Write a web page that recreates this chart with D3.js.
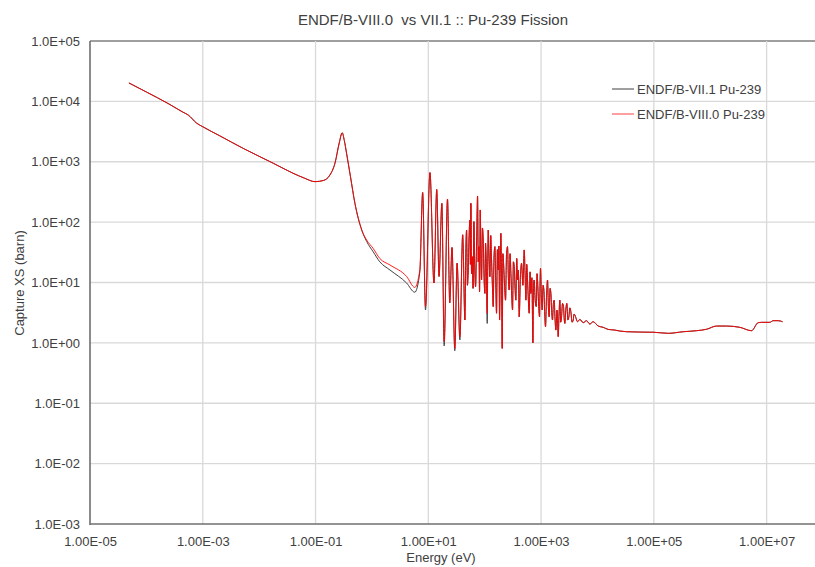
<!DOCTYPE html>
<html><head><meta charset="utf-8">
<script src="https://cdn.jsdelivr.net/npm/d3@7"></script>
<style>
body{margin:0;background:#fff;}
text{font-family:"Liberation Sans",Arial,sans-serif;}
</style></head>
<body><svg id="chart" width="815" height="567"></svg>
<script>
// ---- data ----
// energies in eV, ENDF/B-VIII.0 values in barn
const energy = [
 4.9e-5,1e-4,2.51e-4,4.47e-4,5.5e-4,7.76e-4,1e-3,2e-3,5.25e-3,1e-2,1.78e-2,3.98e-2,6.3e-2,9.8e-2,
 0.138,0.18,0.221,0.263,0.297,0.324,0.355,0.417,0.50,0.66,0.805,1.05,1.38,2.09,4.12,5.75,
 7.08,7.94,8.91,10.7,12.6,14.1,15.5,17.4,19.1,21.9,24.0,26.3,29.5,32.4,36.3,40.7,
 44.6,46.2,47.8,49.4,51.1,52.9,54.7,55.8,56.9,58.5,60.1,62.2,64.4,66.6,68.9,71.8,74.8,76.8,78.9,81.1,
 83.4,85.7,88.1,91.1,94.2,97.5,100.9,103.6,106.4,110.9,113.2,115.6,119.6,123.6,128,132.4,137,141.6,
 146.6,151.7,156.9,162.2,168,173.8,178.7,183.7,188.6,193.6,199,204.6,210.4,216.3,225,234.4,244,254.1,
 263,272.3,281.8,291.7,301.6,311.9,322.9,334.2,345.6,357.3,370,382.8,395.8,409.3,429.6,450.8,476,502.3,
 520,538.3,556.5,575.4,595.6,616.6,637.6,659.2,687,716.1,735.3,755.1,787,820.4,848,877,908,939.7,
 958,977.2,1012,1047,1084,1122,1160,1199,1250,1303,1347,1393,1442,1493,1544,1596,1652,1710,1768,1828,
 1920,2014,2082,2153,2229,2307,2400,2500,2570,2642,2750,2864,2985,3112,3240,3373,3540,3715,3840,3972,
 4436,4875,5585,6397,7328,8395,10300,12650,15490,20320,24950,
 32810,56490,97500,179900,331900,571500,859000,1.294e6,1.945e6,3.35e6,5.40e6,7.08e6,8.13e6,
 1.14e7,1.306e7,1.603e7,1.914e7
];
const xsVIII = [
 20200,14300,9060,6610,5960,4370,3800,2690,1660,1230,944,646,537,468,
 490,603,944,2040,3020,2240,1380,562,204,74,50.6,36.8,25,19.5,12.6,8.3,
 16.2,309,4.0,661,9.8,347,12.6,204,1.05,240,4.6,38,0.81,20.9,1.26,61.7,
 2.39,30,74,9,16.1,60,108,20,205,14,26.8,8,102,18,8.5,45,271,22,39.3,7,
 159,30,11.0,80,50.6,12,6.6,45,23.6,3.1,20,74,25,12.5,60,23.6,9,4.0,
 28,39.3,10,3.1,35,16.1,40,2.39,18,65.3,10,0.81,30,20.8,9,5.1,30,39.3,
 12,7.5,30,14.2,6,3.5,22,18.3,8,5.1,25,11.0,16,2.7,12,20.8,9,34.6,
 14,5.1,20,11.0,5,3.1,15,6.6,12,1.0,9,11.0,5,4.0,14,8.5,4,2.7,
 9,17.1,6,3.5,9,7.5,3,1.85,6,11.0,4,2.7,8,6.6,3.2,2.39,4.5,5.1,2.5,1.63,
 3.5,1.27,3,5.1,2.2,2.7,4.5,4.0,2.5,2.1,3.6,4.5,2.4,2.7,3.8,3.3,2.2,2.39,3.0,2.9,
 2.24,2.45,2.16,2.33,2.05,2.24,1.90,1.81,1.67,1.63,1.57,
 1.53,1.51,1.50,1.44,1.53,1.59,1.68,1.90,1.90,1.81,1.59,2.16,2.19,
 2.19,2.33,2.33,2.24
];
// ENDF/B-VII.1 equals VIII.0 except at these energies (eV -> barn)
const vii1Energy = [0.805,1.05,1.38,2.09,4.12,5.75,7.08,8.91,19.1,29.5,36.3,110.9];
const vii1Value  = [48,32.4,22,16.1,9.8,6.9,15,3.5,0.89,0.74,1.12,2.1];

const seriesNames = ["ENDF/B-VII.1 Pu-239","ENDF/B-VIII.0 Pu-239"];
const xTickValues = [1e-5,1e-3,1e-1,1e1,1e3,1e5,1e7];
const xTickLabels = ["1.00E-05","1.00E-03","1.00E-01","1.00E+01","1.00E+03","1.00E+05","1.00E+07"];
const yTickValues = [1e-3,1e-2,1e-1,1e0,1e1,1e2,1e3,1e4,1e5];
const yTickLabels = ["1.0E-03","1.0E-02","1.0E-01","1.0E+00","1.0E+01","1.0E+02","1.0E+03","1.0E+04","1.0E+05"];
const titleText = "ENDF/B-VIII.0  vs VII.1 :: Pu-239 Fission";
const xTitle = "Energy (eV)";
const yTitle = "Capture XS (barn)";

const xsVII = energy.map((e,i)=>{ const k = vii1Energy.indexOf(e); return k>=0 ? vii1Value[k] : xsVIII[i]; });

// ---- drawing ----
const svg = d3.select("#chart");
const L = 90, T = 41, B = 524, R = 823;
const x = d3.scaleLog().domain([1e-5, 1e8]).range([L, R]);
const y = d3.scaleLog().domain([1e-3, 1e5]).range([B, T]);

svg.append("rect").attr("width",815).attr("height",567).attr("fill","#fff");

// gridlines
svg.append("g").selectAll("line").data(yTickValues.slice(1)).join("line")
  .attr("x1",L).attr("x2",R).attr("y1",d=>y(d)).attr("y2",d=>y(d))
  .attr("stroke",(d,i)=> i===yTickValues.length-2 ? "#7f7f7f" : "#d9d9d9").attr("stroke-width",1.3);
svg.append("g").selectAll("line").data(xTickValues.slice(1)).join("line")
  .attr("x1",d=>x(d)).attr("x2",d=>x(d)).attr("y1",T).attr("y2",B)
  .attr("stroke","#d9d9d9").attr("stroke-width",1.3);

// axes
const yAxis = d3.axisLeft(y).tickValues(yTickValues)
  .tickFormat((d,i)=>yTickLabels[i]).tickSize(0).tickPadding(10);
const gy = svg.append("g").attr("transform",`translate(${L},0)`).call(yAxis);
const xAxis = d3.axisBottom(x).tickValues(xTickValues)
  .tickFormat((d,i)=>xTickLabels[i]).tickSize(0).tickPadding(13);
const gx = svg.append("g").attr("transform",`translate(0,${B})`).call(xAxis);
[gx,gy].forEach(g=>{
  g.select(".domain").remove();
  g.selectAll("text").attr("font-size",13).attr("fill","#404040")
    .attr("font-family","'Liberation Sans',Arial,sans-serif");
});
svg.append("line").attr("x1",L).attr("x2",L).attr("y1",T).attr("y2",B+1)
  .attr("stroke","#6f6f6f").attr("stroke-width",1.6);
svg.append("line").attr("x1",L).attr("x2",R).attr("y1",B).attr("y2",B)
  .attr("stroke","#6f6f6f").attr("stroke-width",1.6);

// series
const line = d3.line().x(d=>x(d[0])).y(d=>y(d[1])).curve(d3.curveMonotoneX);
svg.append("path").datum(energy.map((e,i)=>[e,xsVII[i]]))
  .attr("d",line).attr("fill","none").attr("stroke","#404040").attr("stroke-width",1);
svg.append("path").datum(energy.map((e,i)=>[e,xsVIII[i]]))
  .attr("d",line).attr("fill","none").attr("stroke","#ff0000").attr("stroke-width",0.9);

// titles
svg.append("text").attr("x",433).attr("y",25).attr("text-anchor","middle")
  .attr("font-size",15).attr("fill","#404040").style("white-space","pre").text(titleText);
svg.append("text").attr("x",441).attr("y",562).attr("text-anchor","middle")
  .attr("font-size",13).attr("fill","#404040").text(xTitle);
svg.append("text").attr("transform","translate(24,283) rotate(-90)").attr("text-anchor","middle")
  .attr("font-size",13).attr("fill","#404040").text(yTitle);

// legend
const legColors = ["#404040","#ff4040"];
const lg = svg.append("g");
seriesNames.forEach((n,i)=>{
  const yy = 89 + i*25;
  lg.append("line").attr("x1",612).attr("x2",634).attr("y1",yy).attr("y2",yy)
    .attr("stroke",legColors[i]).attr("stroke-width",1);
  lg.append("text").attr("x",637).attr("y",yy+4.5).attr("font-size",13)
    .attr("fill","#404040").text(n);
});
</script></body></html>
